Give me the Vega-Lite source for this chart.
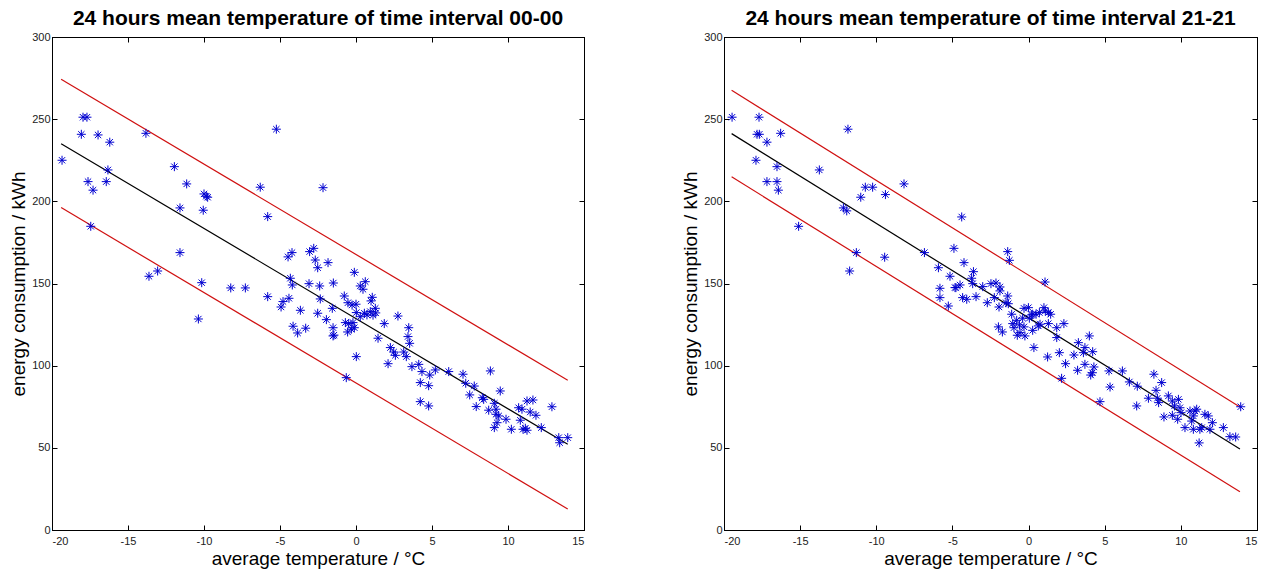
{
  "$schema": "https://vega.github.io/schema/vega-lite/v6.json",
  "background": "white",
  "padding": {"left": 9, "top": 7, "right": 0, "bottom": 0},
  "config": {
    "view": {"stroke": "#000", "strokeWidth": 1},
    "axis": {
      "grid": false,
      "domainColor": "#000",
      "tickColor": "#000",
      "tickSize": -5,
      "labelFont": "Liberation Sans",
      "labelFontSize": 11,
      "labelColor": "#222",
      "labelExpr": "'' + datum.value",
      "titleFont": "Liberation Sans",
      "titleFontSize": 19,
      "titleFontWeight": "normal",
      "titleColor": "#000"
    },
    "axisX": {"labelPadding": 10, "titlePadding": 3},
    "axisY": {"labelPadding": 7, "titlePadding": 3},
    "title": {"font": "Liberation Sans", "fontSize": 21, "fontWeight": "bold", "color": "#000", "frame": "group", "anchor": "middle", "offset": 2}
  },
  "datasets": {
    "pts00": [
      {"t": -19.34, "e": 225}, {"t": -18.07, "e": 240.8}, {"t": -17.96, "e": 251.2}, {"t": -17.7, "e": 251.2}, {"t": -16.97, "e": 240.4}, {"t": -16.2, "e": 236}, {"t": -17.63, "e": 212}, {"t": -17.3, "e": 206.8}, {"t": -16.32, "e": 219.1}, {"t": -16.43, "e": 212}, {"t": -17.45, "e": 184.8}, {"t": -13.82, "e": 241.4}, {"t": -11.95, "e": 221.1}, {"t": -11.14, "e": 210.6}, {"t": -11.58, "e": 196}, {"t": -10.0, "e": 204.5}, {"t": -9.85, "e": 203.1}, {"t": -9.76, "e": 202.5}, {"t": -10.05, "e": 194.6}, {"t": -11.58, "e": 168.8}, {"t": -13.62, "e": 154.4}, {"t": -13.05, "e": 157.6}, {"t": -10.15, "e": 150.5}, {"t": -8.24, "e": 147.3}, {"t": -7.28, "e": 147.3}, {"t": -5.81, "e": 142}, {"t": -6.3, "e": 208.6}, {"t": -5.81, "e": 190.7}, {"t": -5.24, "e": 243.9}, {"t": -10.37, "e": 128.4}, {"t": -4.93, "e": 135.7}, {"t": -4.8, "e": 139}, {"t": -4.41, "e": 141}, {"t": -3.66, "e": 133.7}, {"t": -4.14, "e": 124}, {"t": -3.84, "e": 119.9}, {"t": -3.31, "e": 122.8}, {"t": -4.19, "e": 149.1}, {"t": -3.09, "e": 149.9}, {"t": -2.17, "e": 208.3}, {"t": -3.05, "e": 169.4}, {"t": -2.78, "e": 171.4}, {"t": -2.68, "e": 164.3}, {"t": -2.52, "e": 159.6}, {"t": -1.84, "e": 162.7}, {"t": -0.11, "e": 156.8}, {"t": -2.39, "e": 148.5}, {"t": -1.49, "e": 150.3}, {"t": -0.77, "e": 142.4}, {"t": 0.28, "e": 148.5}, {"t": 0.46, "e": 146.5}, {"t": 0.61, "e": 151.1}, {"t": -4.47, "e": 166.2}, {"t": -4.21, "e": 168.8}, {"t": -4.32, "e": 153.2}, {"t": -2.35, "e": 140.6}, {"t": -2.52, "e": 131.9}, {"t": -1.56, "e": 134.9}, {"t": -1.95, "e": 128}, {"t": -1.51, "e": 123.1}, {"t": -1.51, "e": 118.1}, {"t": -1.45, "e": 118.6}, {"t": -0.53, "e": 138.3}, {"t": -0.26, "e": 136.9}, {"t": 0.0, "e": 137.4}, {"t": 0.02, "e": 132.3}, {"t": -0.7, "e": 126.2}, {"t": -0.48, "e": 125.6}, {"t": -0.2, "e": 126.2}, {"t": -0.11, "e": 123.1}, {"t": -0.55, "e": 120.5}, {"t": -0.31, "e": 122.2}, {"t": 0.28, "e": 129.8}, {"t": 0.55, "e": 131.9}, {"t": 0.72, "e": 130.9}, {"t": 0.94, "e": 132.9}, {"t": 1.12, "e": 130.7}, {"t": 1.3, "e": 132.1}, {"t": 0.99, "e": 139.4}, {"t": 1.07, "e": 141.6}, {"t": 1.27, "e": 134.9}, {"t": 1.86, "e": 125.6}, {"t": 1.45, "e": 116.7}, {"t": 0.02, "e": 105.5}, {"t": -0.64, "e": 92.7}, {"t": 2.76, "e": 130.2}, {"t": 3.47, "e": 123.1}, {"t": 3.42, "e": 117.7}, {"t": 3.53, "e": 113.6}, {"t": 2.26, "e": 111}, {"t": 2.48, "e": 108.3}, {"t": 2.59, "e": 106.3}, {"t": 3.14, "e": 108.3}, {"t": 3.31, "e": 105.5}, {"t": 2.11, "e": 101.2}, {"t": 3.68, "e": 99.4}, {"t": 4.13, "e": 100.8}, {"t": 4.34, "e": 96.4}, {"t": 4.85, "e": 94.3}, {"t": 4.23, "e": 89.7}, {"t": 4.78, "e": 87.8}, {"t": 4.23, "e": 78.1}, {"t": 4.78, "e": 75.5}, {"t": 5.22, "e": 97.4}, {"t": 6.1, "e": 96.4}, {"t": 7.04, "e": 94.8}, {"t": 7.22, "e": 89.3}, {"t": 7.78, "e": 87.6}, {"t": 7.48, "e": 82.2}, {"t": 8.84, "e": 96.8}, {"t": 7.91, "e": 75.1}, {"t": 8.31, "e": 80.5}, {"t": 8.4, "e": 79.5}, {"t": 9.1, "e": 77.1}, {"t": 9.21, "e": 73.5}, {"t": 9.49, "e": 84.6}, {"t": 8.73, "e": 72.9}, {"t": 9.21, "e": 70.4}, {"t": 9.39, "e": 69.4}, {"t": 9.28, "e": 65.3}, {"t": 9.1, "e": 62.3}, {"t": 9.87, "e": 67.4}, {"t": 10.22, "e": 61.3}, {"t": 10.7, "e": 74.4}, {"t": 10.92, "e": 73.5}, {"t": 10.81, "e": 66.8}, {"t": 11.25, "e": 78.5}, {"t": 11.64, "e": 79.1}, {"t": 11.46, "e": 71.8}, {"t": 11.84, "e": 69.8}, {"t": 10.99, "e": 61.3}, {"t": 11.14, "e": 61.9}, {"t": 11.25, "e": 60.7}, {"t": 12.19, "e": 62.3}, {"t": 12.89, "e": 75.0}, {"t": 13.34, "e": 56.2}, {"t": 13.4, "e": 53.1}, {"t": 13.93, "e": 56.2}
    ],
    "pts21": [
      {"t": -19.47, "e": 251.2}, {"t": -17.7, "e": 251.2}, {"t": -17.83, "e": 240.8}, {"t": -17.68, "e": 240.8}, {"t": -16.28, "e": 241.4}, {"t": -17.18, "e": 236}, {"t": -17.9, "e": 225}, {"t": -16.52, "e": 221.1}, {"t": -17.18, "e": 212}, {"t": -16.52, "e": 212}, {"t": -16.43, "e": 206.8}, {"t": -15.1, "e": 184.8}, {"t": -13.74, "e": 219.1}, {"t": -11.86, "e": 243.9}, {"t": -12.16, "e": 196}, {"t": -11.94, "e": 194.2}, {"t": -11.02, "e": 202.5}, {"t": -10.72, "e": 208.6}, {"t": -10.24, "e": 208.6}, {"t": -9.4, "e": 204.1}, {"t": -8.18, "e": 210.6}, {"t": -11.31, "e": 168.8}, {"t": -11.75, "e": 157.6}, {"t": -9.45, "e": 166}, {"t": -6.84, "e": 168.8}, {"t": -5.92, "e": 159.6}, {"t": -5.82, "e": 147.1}, {"t": -5.82, "e": 141.4}, {"t": -5.16, "e": 154.4}, {"t": -4.9, "e": 171.4}, {"t": -4.83, "e": 147.5}, {"t": -5.27, "e": 136.3}, {"t": -4.39, "e": 190.5}, {"t": -4.24, "e": 162.7}, {"t": -4.5, "e": 149.1}, {"t": -4.77, "e": 147.5}, {"t": -4.33, "e": 141.4}, {"t": -4.06, "e": 140.4},
      {"t": -3.62, "e": 157.2}, {"t": -3.74, "e": 153.2}, {"t": -3.67, "e": 149.9}, {"t": -3.01, "e": 148.1}, {"t": -2.47, "e": 149.9}, {"t": -2.14, "e": 150.3}, {"t": -1.88, "e": 147.9}, {"t": -1.88, "e": 145.5}, {"t": -1.37, "e": 142.4}, {"t": -3.45, "e": 142}, {"t": -2.25, "e": 141.4}, {"t": -2.71, "e": 138.3}, {"t": -1.94, "e": 135.7}, {"t": -1.37, "e": 169.4}, {"t": -1.26, "e": 164.1}, {"t": -1.48, "e": 138.3}, {"t": -1.33, "e": 137.7}, {"t": -1.98, "e": 123.6}, {"t": -1.72, "e": 120.5}, {"t": 1.08, "e": 150.9},
      {"t": -1.11, "e": 131.3}, {"t": -0.78, "e": 127.6}, {"t": -1.04, "e": 125.6}, {"t": -0.6, "e": 124.8}, {"t": -0.39, "e": 128.9}, {"t": -0.3, "e": 123.6}, {"t": -0.56, "e": 120.1}, {"t": -0.74, "e": 118.5}, {"t": -0.24, "e": 118.1}, {"t": -0.01, "e": 135.3}, {"t": 0.05, "e": 128.9}, {"t": 0.27, "e": 131.3}, {"t": 0.49, "e": 131.3}, {"t": 0.71, "e": 132.3}, {"t": 1.01, "e": 135.3}, {"t": 1.1, "e": 133.3}, {"t": 1.3, "e": 132.3}, {"t": 1.45, "e": 131.3}, {"t": 0.27, "e": 121.5}, {"t": 0.64, "e": 124.2}, {"t": 0.75, "e": 125.2}, {"t": 1.3, "e": 125.6}, {"t": 1.85, "e": 123.1}, {"t": 2.32, "e": 125.6}, {"t": 1.85, "e": 117.1}, {"t": 0.35, "e": 111}, {"t": 1.25, "e": 105.3}, {"t": 2.02, "e": 107.9}, {"t": 2.43, "e": 101.2}, {"t": 2.17, "e": 92.3}, {"t": 2.98, "e": 106.5}, {"t": 3.27, "e": 114}, {"t": 3.22, "e": 97.2}, {"t": 3.6, "e": 107.9}, {"t": 3.7, "e": 111}, {"t": 3.99, "e": 118.1}, {"t": 4.21, "e": 108.5}, {"t": 3.7, "e": 100.8}, {"t": 4.29, "e": 99.2}, {"t": 4.19, "e": 95.7}, {"t": 4.08, "e": 94.3}, {"t": 4.69, "e": 78.1}, {"t": 5.28, "e": 96.8}, {"t": 5.35, "e": 87}, {"t": 6.16, "e": 96.8}, {"t": 6.62, "e": 90.1}, {"t": 7.14, "e": 87.5}, {"t": 7.1, "e": 75.5}, {"t": 7.87, "e": 80.2}, {"t": 8.23, "e": 94.8}, {"t": 8.37, "e": 85}, {"t": 8.46, "e": 80.2}, {"t": 8.54, "e": 77.5}, {"t": 8.74, "e": 89.7}, {"t": 8.89, "e": 68.8}, {"t": 9.18, "e": 81.6}, {"t": -0.3, "e": 134.9}, {"t": 0.2, "e": 130.9}, {"t": -0.96, "e": 123.1},
      {"t": 9.44, "e": 78.5}, {"t": 9.84, "e": 79.5}, {"t": 9.58, "e": 75.5}, {"t": 9.94, "e": 74.4}, {"t": 9.44, "e": 69.8}, {"t": 9.79, "e": 67.4}, {"t": 10.01, "e": 71.4}, {"t": 10.27, "e": 62.3}, {"t": 10.6, "e": 72.4}, {"t": 10.93, "e": 72.4}, {"t": 11.04, "e": 73.5}, {"t": 10.82, "e": 69.4}, {"t": 10.71, "e": 66.3}, {"t": 10.82, "e": 61.3}, {"t": 11.25, "e": 61.3}, {"t": 11.37, "e": 62.3}, {"t": 11.2, "e": 53}, {"t": 11.58, "e": 70.4}, {"t": 11.8, "e": 69.4}, {"t": 12.07, "e": 65.3}, {"t": 11.91, "e": 61.3}, {"t": 12.79, "e": 62.3}, {"t": 13.22, "e": 56.8}, {"t": 13.6, "e": 56.6}, {"t": 13.93, "e": 75.0}
    ],
    "lines00": [
      {"series": "fit", "t": -19.4, "e": 235.1}, {"series": "fit", "t": 13.93, "e": 52.2},
      {"series": "upper", "t": -19.4, "e": 274.3}, {"series": "upper", "t": 13.93, "e": 91.1},
      {"series": "lower", "t": -19.4, "e": 196.2}, {"series": "lower", "t": 13.93, "e": 12.8}
    ],
    "lines21": [
      {"series": "fit", "t": -19.5, "e": 241.2}, {"series": "fit", "t": 13.88, "e": 49.3},
      {"series": "upper", "t": -19.5, "e": 267.6}, {"series": "upper", "t": 13.88, "e": 74.9},
      {"series": "lower", "t": -19.5, "e": 214.9}, {"series": "lower", "t": 13.88, "e": 23.3}
    ]
  },
  "spacing": 140,
  "bounds": "flush",
  "hconcat": [
    {
      "width": 532, "height": 493,
      "title": {"text": "24 hours mean temperature of time interval 00-00"},
      "layer": [
        {
          "data": {"name": "lines00"},
          "mark": {"type": "line", "strokeWidth": 1.2},
          "encoding": {
            "x": {"field": "t", "type": "quantitative", "scale": {"domain": [-20, 15], "nice": false, "zero": false}, "axis": {"orient": "bottom", "values": [-20, -15, -10, -5, 0, 5, 10, 15], "title": "average temperature / °C"}},
            "y": {"field": "e", "type": "quantitative", "scale": {"domain": [0, 300], "nice": false}, "axis": {"orient": "left", "values": [0, 50, 100, 150, 200, 250, 300], "title": "energy consumption / kWh"}},
            "color": {"field": "series", "type": "nominal", "scale": {"domain": ["fit", "upper", "lower"], "range": ["#000000", "#d01010", "#d01010"]}, "legend": null}
          }
        },
        {
          "data": {"name": "pts00"},
          "mark": {"type": "point", "shape": "M-1,0L1,0M0,-1L0,1M-0.7,-0.7L0.7,0.7M-0.7,0.7L0.7,-0.7", "filled": false, "stroke": "#0000d0", "strokeWidth": 1, "size": 81, "opacity": 1},
          "encoding": {
            "x": {"field": "t", "type": "quantitative", "scale": {"domain": [-20, 15], "nice": false, "zero": false}, "axis": {"orient": "top", "values": [-20, -15, -10, -5, 0, 5, 10, 15], "labels": false, "title": null}},
            "y": {"field": "e", "type": "quantitative", "scale": {"domain": [0, 300], "nice": false}, "axis": {"orient": "right", "values": [0, 50, 100, 150, 200, 250, 300], "labels": false, "title": null}}
          }
        }
      ],
      "resolve": {"axis": {"x": "independent", "y": "independent"}}
    },
    {
      "width": 533, "height": 493,
      "title": {"text": "24 hours mean temperature of time interval 21-21"},
      "layer": [
        {
          "data": {"name": "lines21"},
          "mark": {"type": "line", "strokeWidth": 1.2},
          "encoding": {
            "x": {"field": "t", "type": "quantitative", "scale": {"domain": [-20, 15], "nice": false, "zero": false}, "axis": {"orient": "bottom", "values": [-20, -15, -10, -5, 0, 5, 10, 15], "title": "average temperature / °C"}},
            "y": {"field": "e", "type": "quantitative", "scale": {"domain": [0, 300], "nice": false}, "axis": {"orient": "left", "values": [0, 50, 100, 150, 200, 250, 300], "title": "energy consumption / kWh"}},
            "color": {"field": "series", "type": "nominal", "scale": {"domain": ["fit", "upper", "lower"], "range": ["#000000", "#d01010", "#d01010"]}, "legend": null}
          }
        },
        {
          "data": {"name": "pts21"},
          "mark": {"type": "point", "shape": "M-1,0L1,0M0,-1L0,1M-0.7,-0.7L0.7,0.7M-0.7,0.7L0.7,-0.7", "filled": false, "stroke": "#0000d0", "strokeWidth": 1, "size": 81, "opacity": 1},
          "encoding": {
            "x": {"field": "t", "type": "quantitative", "scale": {"domain": [-20, 15], "nice": false, "zero": false}, "axis": {"orient": "top", "values": [-20, -15, -10, -5, 0, 5, 10, 15], "labels": false, "title": null}},
            "y": {"field": "e", "type": "quantitative", "scale": {"domain": [0, 300], "nice": false}, "axis": {"orient": "right", "values": [0, 50, 100, 150, 200, 250, 300], "labels": false, "title": null}}
          }
        }
      ],
      "resolve": {"axis": {"x": "independent", "y": "independent"}}
    }
  ]
}
